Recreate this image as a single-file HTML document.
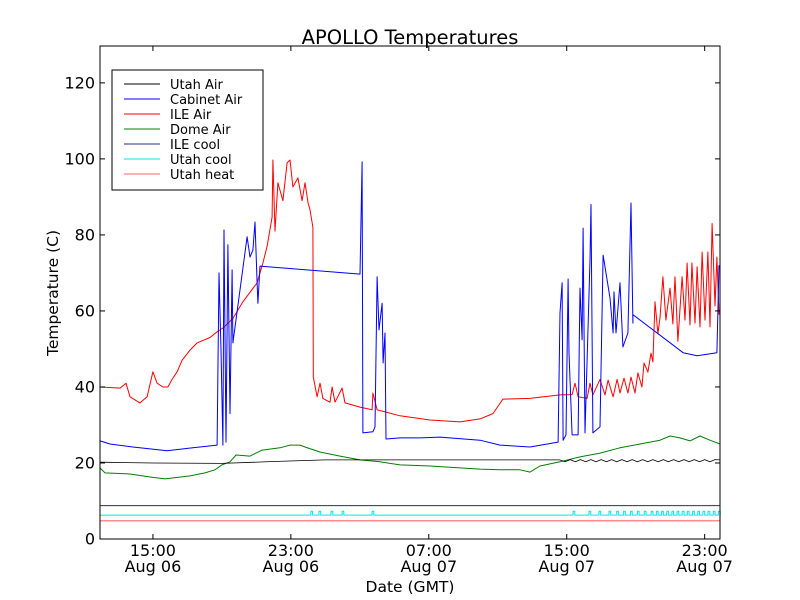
<!DOCTYPE html>
<html><head><meta charset="utf-8"><style>
body{margin:0;background:#fff;}
svg{display:block;font-family:"DejaVu Sans","Liberation Sans",sans-serif;}
</style></head><body>
<svg id="chart" width="800" height="600" xmlns="http://www.w3.org/2000/svg">
<rect width="800" height="600" fill="#fff"/>
<text x="410" y="44" font-size="19.5" text-anchor="middle">APOLLO Temperatures</text>
<text transform="translate(58,293) rotate(-90)" font-size="15.5" text-anchor="middle">Temperature (C)</text>
<text x="410" y="592" font-size="15.5" text-anchor="middle">Date (GMT)</text>
<g id="plot"></g>
<g id="axes"></g>
<g id="legend"></g>
</svg>
<script>
const xTickHours = [15, 23, 31, 39, 47];
const xTickTimes = ["15:00", "23:00", "07:00", "15:00", "23:00"];
const xTickDates = ["Aug 06", "Aug 06", "Aug 07", "Aug 07", "Aug 07"];
const yTicks = [0, 20, 40, 60, 80, 100, 120];
const seriesNames = ["Utah Air", "Cabinet Air", "ILE Air", "Dome Air", "ILE cool", "Utah cool", "Utah heat"];
const seriesColors = ["#000000", "#0000ff", "#ff0000", "#008000", "#2a2a80", "#00e5ee", "#ff6666"];

const utahAirT = [11.93, 15, 19, 22, 25, 28, 33, 38.6, 38.9, 39.2, 39.5, 39.8, 40.1, 40.4, 40.7, 41.0, 41.3, 41.6, 41.9, 42.2, 42.5, 42.8, 43.1, 43.4, 43.7, 44.0, 44.3, 44.6, 44.9, 45.2, 45.5, 45.8, 46.1, 46.4, 46.7, 47.0, 47.3, 47.6, 47.89];
const utahAirV = [20.2, 20.0, 19.9, 20.4, 20.8, 20.8, 20.8, 20.8, 20.3, 20.9, 20.3, 20.9, 20.3, 20.9, 20.3, 20.9, 20.3, 20.9, 20.3, 20.9, 20.3, 20.9, 20.3, 20.9, 20.3, 20.9, 20.3, 20.9, 20.3, 20.9, 20.3, 20.9, 20.3, 20.9, 20.3, 20.9, 20.3, 20.9, 20.8];

const cabinetT = [11.93, 12.51, 13.84, 15.82, 17.32, 18.72, 18.83, 18.95, 19.06, 19.12, 19.24, 19.35, 19.47, 19.59, 19.64, 20.46, 20.63, 20.80, 20.92, 21.04, 21.09, 21.21, 27.01, 27.13, 27.13, 27.18, 27.76, 27.88, 28.0, 28.11, 28.29, 28.35, 28.46, 28.52, 29.33, 30.49, 31.65, 33.97, 35.13, 36.87, 38.50, 38.61, 38.73, 38.79, 38.96, 39.08, 39.13, 39.31, 39.66, 39.77, 39.89, 39.95, 40.06, 40.35, 40.41, 40.52, 40.93, 41.11, 41.51, 41.69, 41.74, 41.86, 42.09, 42.26, 42.55, 42.73, 42.84, 42.84, 45.75, 46.56, 47.71, 47.83];
const cabinetV = [25.8, 25.0, 24.2, 23.2, 24.0, 24.7, 70.0, 49.7, 24.7, 81.3, 25.5, 77.4, 33.0, 70.8, 51.6, 79.5, 74.2, 76.0, 83.4, 67.4, 62.0, 71.8, 69.7, 99.2, 98.4, 27.9, 28.2, 29.5, 69.0, 55.0, 62.0, 46.3, 54.2, 26.3, 26.6, 26.6, 26.8, 26.0, 24.7, 24.2, 25.5, 59.5, 67.4, 26.0, 27.4, 68.4, 49.0, 27.4, 27.4, 66.0, 52.4, 81.8, 27.9, 73.4, 88.0, 27.9, 29.5, 74.7, 63.4, 54.2, 65.0, 54.2, 67.4, 50.5, 54.2, 88.4, 56.8, 59.0, 49.0, 48.2, 49.0, 72.0];

const ileAirT = [11.93, 13.09, 13.44, 13.67, 14.25, 14.66, 15.0, 15.24, 15.58, 15.87, 16.11, 16.40, 16.69, 17.15, 17.56, 18.31, 18.72, 19.06, 19.64, 20.22, 21.04, 21.38, 21.62, 21.91, 21.96, 22.08, 22.25, 22.54, 22.78, 22.95, 23.12, 23.41, 23.65, 23.82, 24.0, 24.11, 24.28, 24.30, 24.52, 24.69, 24.86, 25.27, 25.39, 25.56, 25.97, 26.14, 27.01, 27.71, 27.76, 28.0, 29.33, 31.07, 32.81, 33.97, 34.72, 35.30, 36.87, 38.61, 39.31, 39.48, 39.66, 40.18, 40.35, 40.52, 40.93, 41.22, 41.40, 41.69, 41.92, 42.09, 42.32, 42.55, 42.73, 42.96, 43.13, 43.36, 43.48, 43.71, 43.89, 44.0, 44.12, 44.29, 44.41, 44.58, 44.75, 44.99, 45.16, 45.28, 45.45, 45.69, 45.86, 45.98, 46.15, 46.26, 46.44, 46.56, 46.73, 46.85, 47.02, 47.19, 47.31, 47.43, 47.60, 47.71, 47.83];
const ileAirV = [40.0, 39.7, 41.0, 37.4, 35.8, 37.4, 44.0, 41.0, 40.0, 40.0, 42.0, 44.0, 47.0, 49.7, 51.6, 53.0, 54.5, 55.5, 58.0, 62.4, 67.4, 72.6, 77.0, 84.7, 99.7, 81.0, 93.7, 89.0, 99.0, 99.7, 92.6, 95.0, 89.0, 93.7, 88.4, 86.6, 82.0, 42.6, 37.4, 41.0, 37.0, 36.0, 40.0, 36.0, 39.7, 35.8, 34.7, 34.0, 38.4, 34.0, 32.4, 31.3, 30.8, 31.6, 33.0, 36.8, 37.0, 37.9, 38.0, 41.0, 37.4, 37.0, 41.0, 37.9, 42.0, 37.9, 41.8, 37.4, 42.0, 38.4, 42.3, 38.4, 42.6, 38.4, 43.7, 40.0, 46.3, 43.9, 48.9, 46.6, 62.4, 54.0, 58.2, 69.0, 57.6, 66.0, 56.6, 69.0, 52.0, 69.0, 57.6, 72.6, 56.3, 72.6, 56.8, 71.6, 55.8, 75.5, 57.6, 75.5, 55.8, 83.0, 61.3, 74.2, 59.0];

const domeT = [11.93, 12.22, 13.67, 14.83, 15.70, 17.15, 18.02, 18.60, 19.0, 19.47, 19.82, 20.63, 21.33, 22.37, 22.95, 23.53, 23.82, 24.69, 25.85, 27.01, 28.17, 29.33, 31.07, 32.81, 33.97, 35.13, 36.29, 36.87, 37.45, 38.61, 39.77, 40.93, 42.09, 43.25, 44.41, 44.99, 45.57, 46.15, 46.73, 47.31, 47.89];
const domeV = [18.7, 17.4, 17.1, 16.3, 15.8, 16.6, 17.4, 18.2, 19.5, 20.3, 22.1, 21.8, 23.4, 24.0, 24.7, 24.7, 24.2, 22.9, 21.8, 20.8, 20.3, 19.5, 19.2, 18.7, 18.4, 18.2, 18.2, 17.6, 19.2, 20.3, 21.6, 22.6, 24.0, 25.0, 26.0, 27.1, 26.6, 25.8, 27.1, 26.0, 25.0];

const ileCoolT = [11.93, 47.89];
const ileCoolV = [8.8, 8.8];

const utahCoolPulseT = [24.16, 24.63, 25.33, 25.97, 27.71, 39.37, 40.29, 40.87, 41.45, 41.9, 42.3, 42.7, 43.1, 43.5, 43.9, 44.2, 44.5, 44.8, 45.1, 45.4, 45.7, 46.0, 46.3, 46.6, 46.9, 47.2, 47.5, 47.8];
const utahCoolBase = 6.3;
const utahCoolHigh = 7.3;

const utahHeatT = [11.93, 47.89];
const utahHeatV = [4.8, 4.8];

const X0 = 100, X1 = 720, Y0 = 539, Y1 = 46;
const xMin = 11.93, xMax = 47.89, yMin = 0, yMax = 129.7;
function xs(h){ return X0 + (h - xMin) / (xMax - xMin) * (X1 - X0); }
function ys(v){ return Y0 - (v - yMin) / (yMax - yMin) * (Y0 - Y1); }
const NS = "http://www.w3.org/2000/svg";
function mk(tag, parent){ const e = document.createElementNS(NS, tag); parent.appendChild(e); return e; }
const plot = document.getElementById('plot');
const axes = document.getElementById('axes');
const legend = document.getElementById('legend');

function drawLine(ts, vs, color, name, width){
  const p = mk('polyline', plot);
  
  
  p.setAttribute('points', ts.map((t,i)=>xs(t).toFixed(1)+','+ys(vs[i]).toFixed(1)).join(' '));
  p.setAttribute('fill', 'none');
  p.setAttribute('stroke', color);
  p.setAttribute('stroke-width', width || 1);
  p.setAttribute('stroke-linejoin', 'round');
}
const ucT = [xMin], ucV = [utahCoolBase];
utahCoolPulseT.forEach(t=>{ ucT.push(t, t, t+0.1, t+0.1); ucV.push(utahCoolBase, utahCoolHigh, utahCoolHigh, utahCoolBase); });
ucT.push(xMax); ucV.push(utahCoolBase);

drawLine(utahHeatT, utahHeatV, seriesColors[6], 'utah-heat-line', 1.2);
drawLine(ucT, ucV, seriesColors[5], 'utah-cool-line', 1);
drawLine(ileCoolT, ileCoolV, seriesColors[4], 'ile-cool-line', 1);
drawLine(domeT, domeV, seriesColors[3], 'dome-air-line', 1);
drawLine(utahAirT, utahAirV, seriesColors[0], 'utah-air-line', 0.8);
drawLine(ileAirT, ileAirV, seriesColors[2], 'ile-air-line', 1);
drawLine(cabinetT, cabinetV, seriesColors[1], 'cabinet-air-line', 1);

const fr = mk('rect', axes);


fr.setAttribute('x', X0); fr.setAttribute('y', Y1);
fr.setAttribute('width', X1-X0); fr.setAttribute('height', Y0-Y1);
fr.setAttribute('fill', 'none'); fr.setAttribute('stroke', '#000'); fr.setAttribute('stroke-width', 1);

yTicks.forEach(v=>{
  const y = ys(v);
  [[X0, X0+5],[X1, X1-5]].forEach(([a,b])=>{
    const l = mk('line', axes);
    
    
    l.setAttribute('x1', a); l.setAttribute('x2', b); l.setAttribute('y1', y); l.setAttribute('y2', y);
    l.setAttribute('stroke', '#000');
  });
  const t = mk('text', axes);
  
  
  t.setAttribute('x', X0-5); t.setAttribute('y', y+5.5);
  t.setAttribute('text-anchor', 'end'); t.setAttribute('font-size', '16');
  t.textContent = v;
});
xTickHours.forEach((h,i)=>{
  const x = xs(h);
  [[Y0, Y0-5],[Y1, Y1+5]].forEach(([a,b])=>{
    const l = mk('line', axes);
    
    
    l.setAttribute('x1', x); l.setAttribute('x2', x); l.setAttribute('y1', a); l.setAttribute('y2', b);
    l.setAttribute('stroke', '#000');
  });
  const t = mk('text', axes);
  
  
  t.setAttribute('x', x); t.setAttribute('y', 556);
  t.setAttribute('text-anchor', 'middle'); t.setAttribute('font-size', '16');
  t.textContent = xTickTimes[i];
  const d = mk('text', axes);
  
  
  d.setAttribute('x', x); d.setAttribute('y', 572);
  d.setAttribute('text-anchor', 'middle'); d.setAttribute('font-size', '16');
  d.textContent = xTickDates[i];
});

const lb = mk('rect', legend);


lb.setAttribute('x', 112); lb.setAttribute('y', 70); lb.setAttribute('width', 151); lb.setAttribute('height', 120);
lb.setAttribute('fill', '#fff'); lb.setAttribute('stroke', '#000');
seriesNames.forEach((n,i)=>{
  const y = 84 + i*15;
  const l = mk('line', legend);
  
  
  l.setAttribute('x1', 124); l.setAttribute('x2', 160); l.setAttribute('y1', y); l.setAttribute('y2', y);
  l.setAttribute('stroke', seriesColors[i]);
  const t = mk('text', legend);
  
  
  t.setAttribute('x', 170); t.setAttribute('y', y+5); t.setAttribute('font-size', '13');
  t.textContent = n;
});
</script>
</body></html>
